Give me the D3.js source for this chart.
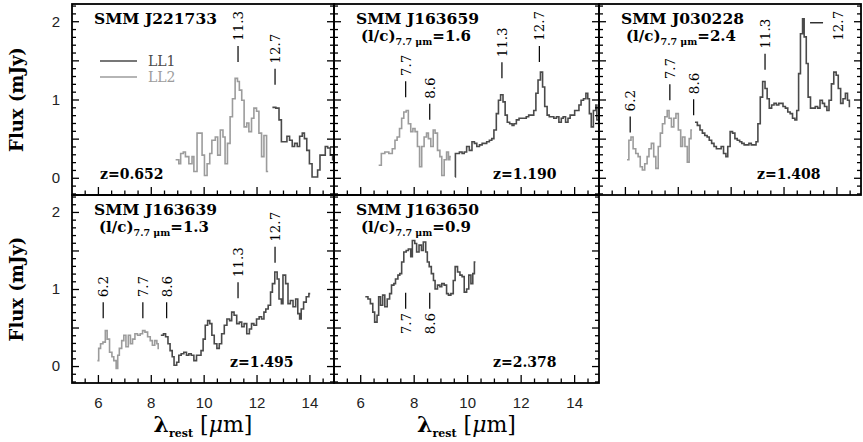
<!DOCTYPE html>
<html><head><meta charset="utf-8">
<script src="https://cdn.jsdelivr.net/npm/d3@7"></script>
<style>body{margin:0;background:#fff}</style>
</head><body>
<svg id="c" width="863" height="442"></svg>
<script>
// ---------------- DATA ----------------
const panelNames = ["SMM J221733", "SMM J163659", "SMM J030228", "SMM J163639", "SMM J163650"];
const redshifts  = ["z=0.652", "z=1.190", "z=1.408", "z=1.495", "z=2.378"];
const lcRatios   = [null, "1.6", "2.4", "1.3", "0.9"];
const xTickLabels = [6, 8, 10, 12, 14];
const yTickLabels = [0, 1, 2];
const legendLabels = ["LL1", "LL2"];

// spectra: [rest wavelength (um), flux (mJy)]
const ll2_J221733 = [[8.94,0.23],[9.06,0.18],[9.13,0.31],[9.23,0.33],[9.31,0.27],[9.44,0.18],[9.56,0.27],[9.63,0.08],[9.75,0.57],[9.94,0.29],[10.03,0.03],[10.13,0.18],[10.23,0.31],[10.31,0.48],[10.44,0.52],[10.53,0.29],[10.63,0.61],[10.73,0.52],[10.81,0.18],[10.90,0.44],[11.00,0.78],[11.09,1.01],[11.19,1.27],[11.28,1.23],[11.35,1.12],[11.44,0.99],[11.53,0.65],[11.63,0.70],[11.71,0.59],[11.81,0.76],[11.90,0.89],[12.00,0.85],[12.09,0.57],[12.19,0.27],[12.28,0.54],[12.38,0.08],[12.44,0.08]];
const ll1_J221733 = [[12.60,0.90],[12.73,0.89],[12.85,0.74],[12.94,0.46],[13.06,0.46],[13.15,0.53],[13.25,0.48],[13.35,0.40],[13.44,0.44],[13.54,0.40],[13.63,0.53],[13.73,0.57],[13.81,0.50],[13.90,0.35],[14.00,0.18],[14.10,0.01],[14.23,0.01],[14.31,0.10],[14.40,0.29],[14.50,0.29],[14.60,0.40],[14.69,0.38],[14.79,0.29],[14.88,0.23],[15.00,0.23]];

const ll2_J163659 = [[6.69,0.16],[6.79,0.31],[6.92,0.33],[7.07,0.31],[7.20,0.37],[7.30,0.48],[7.38,0.52],[7.47,0.63],[7.55,0.76],[7.63,0.84],[7.72,0.86],[7.80,0.69],[7.89,0.59],[7.97,0.63],[8.05,0.59],[8.14,0.40],[8.22,0.14],[8.30,0.40],[8.39,0.52],[8.48,0.57],[8.55,0.50],[8.64,0.40],[8.73,0.61],[8.80,0.57],[8.89,0.35],[8.98,0.27],[9.05,0.03],[9.14,0.23],[9.23,0.33],[9.30,0.23],[9.35,0.27],[9.39,0.27]];
const ll1_J163659 = [[9.55,0.01],[9.56,0.31],[9.71,0.33],[9.81,0.31],[9.89,0.33],[9.98,0.40],[10.08,0.35],[10.18,0.46],[10.27,0.44],[10.36,0.40],[10.46,0.42],[10.56,0.44],[10.65,0.44],[10.73,0.46],[10.83,0.48],[10.92,0.50],[11.00,0.61],[11.09,0.82],[11.17,0.99],[11.25,1.06],[11.34,0.97],[11.42,0.80],[11.50,0.71],[11.59,0.69],[11.68,0.67],[11.75,0.69],[11.84,0.74],[11.94,0.76],[12.03,0.76],[12.11,0.76],[12.21,0.78],[12.30,0.80],[12.40,0.80],[12.49,0.86],[12.57,1.08],[12.65,1.25],[12.74,1.35],[12.82,1.16],[12.90,0.91],[12.99,0.80],[13.07,0.78],[13.16,0.78],[13.24,0.76],[13.34,0.78],[13.43,0.71],[13.52,0.76],[13.59,0.78],[13.68,0.71],[13.77,0.76],[13.85,0.80],[13.93,0.80],[14.02,0.86],[14.10,0.86],[14.18,0.93],[14.26,0.99],[14.35,1.01],[14.44,1.08],[14.51,1.01],[14.57,0.82],[14.64,0.65],[14.72,0.86],[14.81,0.93],[14.85,0.74],[14.95,0.74]];

const ll2_J030228 = [[6.08,0.23],[6.15,0.48],[6.23,0.52],[6.31,0.37],[6.41,0.31],[6.50,0.27],[6.58,0.14],[6.66,0.10],[6.75,0.18],[6.84,0.27],[6.91,0.37],[7.00,0.44],[7.09,0.27],[7.17,0.12],[7.26,0.40],[7.34,0.57],[7.42,0.69],[7.51,0.78],[7.60,0.86],[7.67,0.76],[7.76,0.65],[7.85,0.76],[7.93,0.82],[8.02,0.61],[8.11,0.40],[8.18,0.52],[8.27,0.40],[8.36,0.20],[8.43,0.50],[8.50,0.61],[8.54,0.61]];
const ll1_J030228 = [[8.65,0.71],[8.74,0.67],[8.84,0.61],[8.93,0.57],[9.02,0.54],[9.11,0.52],[9.19,0.48],[9.28,0.44],[9.37,0.40],[9.46,0.37],[9.55,0.37],[9.64,0.40],[9.73,0.31],[9.82,0.27],[9.89,0.40],[9.98,0.59],[10.07,0.57],[10.16,0.50],[10.25,0.48],[10.34,0.46],[10.42,0.44],[10.51,0.42],[10.60,0.42],[10.69,0.44],[10.78,0.42],[10.87,0.42],[10.96,0.46],[11.03,0.69],[11.12,1.03],[11.21,1.23],[11.30,1.14],[11.38,1.01],[11.46,0.89],[11.55,0.93],[11.64,0.95],[11.73,0.93],[11.82,0.95],[11.91,0.95],[11.98,0.91],[12.07,0.89],[12.16,0.84],[12.25,0.82],[12.34,0.76],[12.43,0.74],[12.50,0.86],[12.57,1.33],[12.64,1.84],[12.72,2.03],[12.78,1.80],[12.86,1.46],[12.93,1.03],[13.02,0.89],[13.11,0.89],[13.20,0.91],[13.29,0.89],[13.38,0.99],[13.47,0.95],[13.55,0.91],[13.64,0.86],[13.72,0.99],[13.81,1.20],[13.90,1.35],[13.99,1.31],[14.07,1.14],[14.16,0.95],[14.25,1.01],[14.34,1.08],[14.42,0.99],[14.49,0.91],[14.52,0.91]];

const ll2_J163639 = [[5.98,0.07],[6.03,0.23],[6.10,0.29],[6.19,0.31],[6.28,0.46],[6.35,0.35],[6.44,0.18],[6.53,0.12],[6.60,0.07],[6.69,-0.03],[6.75,0.14],[6.81,0.23],[6.90,0.33],[6.98,0.40],[7.06,0.25],[7.15,0.40],[7.23,0.29],[7.31,0.35],[7.40,0.42],[7.50,0.40],[7.60,0.42],[7.69,0.46],[7.78,0.44],[7.88,0.38],[7.98,0.33],[8.06,0.27],[8.15,0.33],[8.23,0.29],[8.28,0.23],[8.31,0.23]];
const ll1_J163639 = [[8.38,0.40],[8.48,0.42],[8.56,0.38],[8.65,0.29],[8.73,0.20],[8.81,0.12],[8.88,0.01],[8.98,0.05],[9.06,0.14],[9.15,0.16],[9.25,0.18],[9.35,0.14],[9.44,0.16],[9.53,0.14],[9.63,0.07],[9.73,0.14],[9.81,0.14],[9.90,0.20],[9.98,0.35],[10.06,0.53],[10.15,0.59],[10.23,0.55],[10.31,0.40],[10.40,0.29],[10.50,0.23],[10.59,0.29],[10.68,0.42],[10.78,0.53],[10.88,0.61],[10.98,0.59],[11.06,0.70],[11.15,0.66],[11.25,0.55],[11.35,0.57],[11.44,0.51],[11.53,0.55],[11.63,0.42],[11.73,0.48],[11.81,0.55],[11.90,0.53],[12.00,0.61],[12.10,0.64],[12.19,0.61],[12.28,0.70],[12.35,0.74],[12.44,0.79],[12.53,0.96],[12.60,1.07],[12.69,1.22],[12.78,1.13],[12.85,0.87],[12.94,0.81],[13.00,1.18],[13.10,1.07],[13.19,0.81],[13.28,0.85],[13.38,0.77],[13.48,0.87],[13.56,0.68],[13.63,0.61],[13.69,0.74],[13.78,0.83],[13.88,0.90],[13.98,0.94],[14.03,0.94]];

const ll1_J163650 = [[6.19,0.90],[6.29,0.87],[6.38,0.81],[6.47,0.70],[6.54,0.57],[6.63,0.66],[6.69,0.90],[6.76,0.79],[6.84,0.92],[6.92,0.77],[7.01,0.87],[7.10,0.94],[7.17,1.05],[7.26,1.07],[7.32,1.13],[7.41,1.18],[7.48,1.20],[7.55,1.35],[7.63,1.48],[7.72,1.50],[7.80,1.52],[7.89,1.42],[7.95,1.63],[8.04,1.59],[8.11,1.48],[8.20,1.57],[8.29,1.50],[8.36,1.61],[8.45,1.48],[8.51,1.35],[8.58,1.29],[8.66,1.20],[8.74,1.11],[8.80,1.00],[8.89,1.05],[8.98,1.03],[9.05,1.07],[9.14,1.05],[9.23,0.94],[9.30,0.92],[9.39,0.94],[9.48,1.11],[9.55,1.29],[9.64,1.22],[9.73,1.18],[9.81,1.16],[9.89,0.96],[9.98,1.00],[10.06,1.18],[10.14,1.07],[10.21,1.20],[10.27,1.35],[10.31,1.35]];

// PAH feature markers: label, wavelength, flux level at the marker's near end
const feat_J221733 = [{label:"11.3", wl:11.3, flux:1.48, dir:"up"}, {label:"12.7", wl:12.7, flux:1.19, dir:"up"}];
const feat_J163659 = [{label:"7.7", wl:7.7, flux:1.03, dir:"up"}, {label:"8.6", wl:8.6, flux:0.74, dir:"up"}, {label:"11.3", wl:11.3, flux:1.27, dir:"up"}, {label:"12.7", wl:12.7, flux:1.48, dir:"up"}];
const feat_J030228 = [{label:"6.2", wl:6.2, flux:0.58, dir:"up"}, {label:"7.7", wl:7.7, flux:0.99, dir:"up"}, {label:"8.6", wl:8.6, flux:0.80, dir:"up"}, {label:"11.3", wl:11.3, flux:1.38, dir:"up"}, {label:"12.7", wl:12.7, flux:1.98, dir:"side"}];
const feat_J163639 = [{label:"6.2", wl:6.2, flux:0.62, dir:"up"}, {label:"7.7", wl:7.7, flux:0.62, dir:"up"}, {label:"8.6", wl:8.6, flux:0.62, dir:"up"}, {label:"11.3", wl:11.3, flux:0.88, dir:"up"}, {label:"12.7", wl:12.7, flux:1.34, dir:"up"}];
const feat_J163650 = [{label:"7.7", wl:7.7, flux:0.95, dir:"down"}, {label:"8.6", wl:8.6, flux:0.95, dir:"down"}];

// ---------------- LAYOUT ----------------
const xDomain = [5.02, 14.93], yDomain = [-0.22, 2.22];
const cols = [{x:72, w:262}, {x:334, w:265}, {x:599, w:262}];
const rows = [{y:4, h:191}, {y:195, h:188}];
const C_LL1 = "#4a4a4a", C_LL2 = "#9c9c9c";
const SERIF = "'DejaVu Serif', serif", SANS = "'Liberation Sans', Arial, sans-serif";

const panels = [
  {i:0, col:0, row:0, ll1:ll1_J221733, ll2:ll2_J221733, feats:feat_J221733, zOff:28, legend:true},
  {i:1, col:1, row:0, ll1:ll1_J163659, ll2:ll2_J163659, feats:feat_J163659, zOff:159},
  {i:2, col:2, row:0, ll1:ll1_J030228, ll2:ll2_J030228, feats:feat_J030228, zOff:158},
  {i:3, col:0, row:1, ll1:ll1_J163639, ll2:ll2_J163639, feats:feat_J163639, zOff:158},
  {i:4, col:1, row:1, ll1:ll1_J163650, ll2:null, feats:feat_J163650, zOff:159}
];

const svg = d3.select("#c");
const defs = svg.append("defs");

const minorX = d3.range(10, 31).map(i => i / 2).filter(v => v % 2 !== 0);
const majorX = d3.range(4, 16, 2);
const minorY = d3.range(-2, 23).filter(i => i % 5 !== 0).map(i => i / 10);
const majorY = d3.range(0, 5).map(i => i / 2);

function styleTicks(g) {
  g.select(".domain").remove();
  g.selectAll(".tick line").attr("stroke", "#000").attr("stroke-width", 1.3);
}

panels.forEach(p => {
  const c = cols[p.col], r = rows[p.row];
  const x = d3.scaleLinear(xDomain, [c.x, c.x + c.w]);
  const y = d3.scaleLinear(yDomain, [r.y + r.h, r.y]);
  const g = svg.append("g");

  const cid = "clip" + p.i;
  defs.append("clipPath").attr("id", cid).append("rect")
    .attr("x", c.x).attr("y", r.y).attr("width", c.w).attr("height", r.h);

  const line = d3.line().x(d => x(d[0])).y(d => y(d[1])).curve(d3.curveStepAfter);
  const lg = g.append("g").attr("clip-path", `url(#${cid})`);
  if (p.ll2) lg.append("path").attr("d", line(p.ll2)).attr("fill", "none").attr("stroke", C_LL2).attr("stroke-width", 1.6);
  if (p.ll1) lg.append("path").attr("d", line(p.ll1)).attr("fill", "none").attr("stroke", C_LL1).attr("stroke-width", 1.6);

  // ticks: bottom (inward), left & right (inward)
  const xb = `translate(0,${r.y + r.h})`;
  g.append("g").attr("transform", xb).call(d3.axisBottom(x).tickValues(minorX.filter(v => v > xDomain[0] && v < xDomain[1])).tickSize(-4.5).tickFormat("")).call(styleTicks);
  g.append("g").attr("transform", xb).call(d3.axisBottom(x).tickValues(majorX.filter(v => v > xDomain[0] && v < xDomain[1])).tickSize(-8).tickFormat("")).call(styleTicks);
  g.append("g").attr("transform", `translate(${c.x},0)`).call(d3.axisLeft(y).tickValues(minorY).tickSize(-4).tickFormat("")).call(styleTicks);
  g.append("g").attr("transform", `translate(${c.x},0)`).call(d3.axisLeft(y).tickValues(majorY).tickSize(-7).tickFormat("")).call(styleTicks);
  g.append("g").attr("transform", `translate(${c.x + c.w},0)`).call(d3.axisRight(y).tickValues(minorY).tickSize(-4).tickFormat("")).call(styleTicks);
  g.append("g").attr("transform", `translate(${c.x + c.w},0)`).call(d3.axisRight(y).tickValues(majorY).tickSize(-7).tickFormat("")).call(styleTicks);

  // tick labels
  if (p.col === 0) {
    const ya = g.append("g").attr("transform", `translate(${c.x},0)`)
      .call(d3.axisLeft(y).tickValues(yTickLabels).tickSize(0).tickPadding(12).tickFormat(d3.format("d")));
    ya.select(".domain").remove();
    ya.selectAll("text").attr("font-family", SANS).attr("font-size", 15).attr("fill", "#222");
  }
  if (p.row === 1) {
    const xa = g.append("g").attr("transform", xb)
      .call(d3.axisBottom(x).tickValues(xTickLabels).tickSize(0).tickPadding(14.5).tickFormat(d3.format("d")));
    xa.select(".domain").remove();
    xa.selectAll("text").attr("font-family", SANS).attr("font-size", 15).attr("fill", "#222");
  }

  // frame
  g.append("rect").attr("x", c.x).attr("y", r.y).attr("width", c.w).attr("height", r.h)
    .attr("fill", "none").attr("stroke", "#000").attr("stroke-width", 1.8);

  // title
  g.append("text").attr("x", c.x + 22).attr("y", r.y + 20)
    .attr("font-family", SERIF).attr("font-weight", "bold").attr("font-size", 15.5).text(panelNames[p.i]);
  if (lcRatios[p.i]) {
    const t = g.append("text").attr("x", c.x + 27).attr("y", r.y + 37)
      .attr("font-family", SERIF).attr("font-weight", "bold").attr("font-size", 15);
    t.append("tspan").text("(l/c)");
    t.append("tspan").attr("font-size", 9.5).attr("dy", 4).text("7.7 \u03BCm");
    t.append("tspan").attr("dy", -4).text("=" + lcRatios[p.i]);
  }
  g.append("text").attr("x", c.x + p.zOff).attr("y", r.y + r.h - 16)
    .attr("font-family", SERIF).attr("font-weight", "bold").attr("font-size", 14).text(redshifts[p.i]);

  // feature markers
  p.feats.forEach(f => {
    const fx = x(f.wl), fy = y(f.flux);
    if (f.dir === "up") {
      g.append("line").attr("x1", fx).attr("x2", fx).attr("y1", fy).attr("y2", fy - 16).attr("stroke", "#000").attr("stroke-width", 1.2);
      g.append("text").attr("transform", `translate(${fx},${fy - 21}) rotate(-90)`).attr("dy", "0.36em")
        .attr("text-anchor", "start").attr("font-family", SERIF).attr("font-size", 13.5).text(f.label);
    } else if (f.dir === "down") {
      g.append("line").attr("x1", fx).attr("x2", fx).attr("y1", fy).attr("y2", fy + 16).attr("stroke", "#000").attr("stroke-width", 1.2);
      g.append("text").attr("transform", `translate(${fx},${fy + 20}) rotate(-90)`).attr("dy", "0.36em")
        .attr("text-anchor", "end").attr("font-family", SERIF).attr("font-size", 13.5).text(f.label);
    } else {
      g.append("line").attr("x1", fx + 8).attr("x2", fx + 21).attr("y1", fy).attr("y2", fy).attr("stroke", "#000").attr("stroke-width", 1.2);
      g.append("text").attr("transform", `translate(${fx + 36},${fy + 3}) rotate(-90)`).attr("dy", "0.36em")
        .attr("text-anchor", "middle").attr("font-family", SERIF).attr("font-size", 13.5).text(f.label);
    }
  });

  // legend
  if (p.legend) {
    [[C_LL1, 0], [C_LL2, 1]].forEach(([col, k]) => {
      const ly = r.y + 57 + k * 16;
      g.append("line").attr("x1", c.x + 28).attr("x2", c.x + 65).attr("y1", ly).attr("y2", ly).attr("stroke", col).attr("stroke-width", 1.6);
      g.append("text").attr("x", c.x + 76).attr("y", ly + 5).attr("font-family", SERIF).attr("font-size", 14)
        .attr("fill", col).text(legendLabels[k]);
    });
  }
});

// axis titles
rows.forEach(r => {
  svg.append("text").attr("transform", `translate(17,${r.y + r.h / 2}) rotate(-90)`).attr("dy", "0.36em")
    .attr("text-anchor", "middle").attr("font-family", SERIF).attr("font-weight", "bold").attr("font-size", 18).text("Flux (mJy)");
});
[0, 1].forEach(ci => {
  const c = cols[ci];
  const t = svg.append("text").attr("x", c.x + c.w / 2).attr("y", 432).attr("text-anchor", "middle")
    .attr("font-family", SERIF).attr("font-size", 22);
  t.append("tspan").attr("font-weight", "bold").text("\u03BB");
  t.append("tspan").attr("font-weight", "bold").attr("font-size", 11).attr("dy", 5).text("rest");
  t.append("tspan").attr("dy", -5).text(" [");
  t.append("tspan").attr("font-style", "italic").text("\u03BC");
  t.append("tspan").text("m]");
});
</script>
</body></html>
